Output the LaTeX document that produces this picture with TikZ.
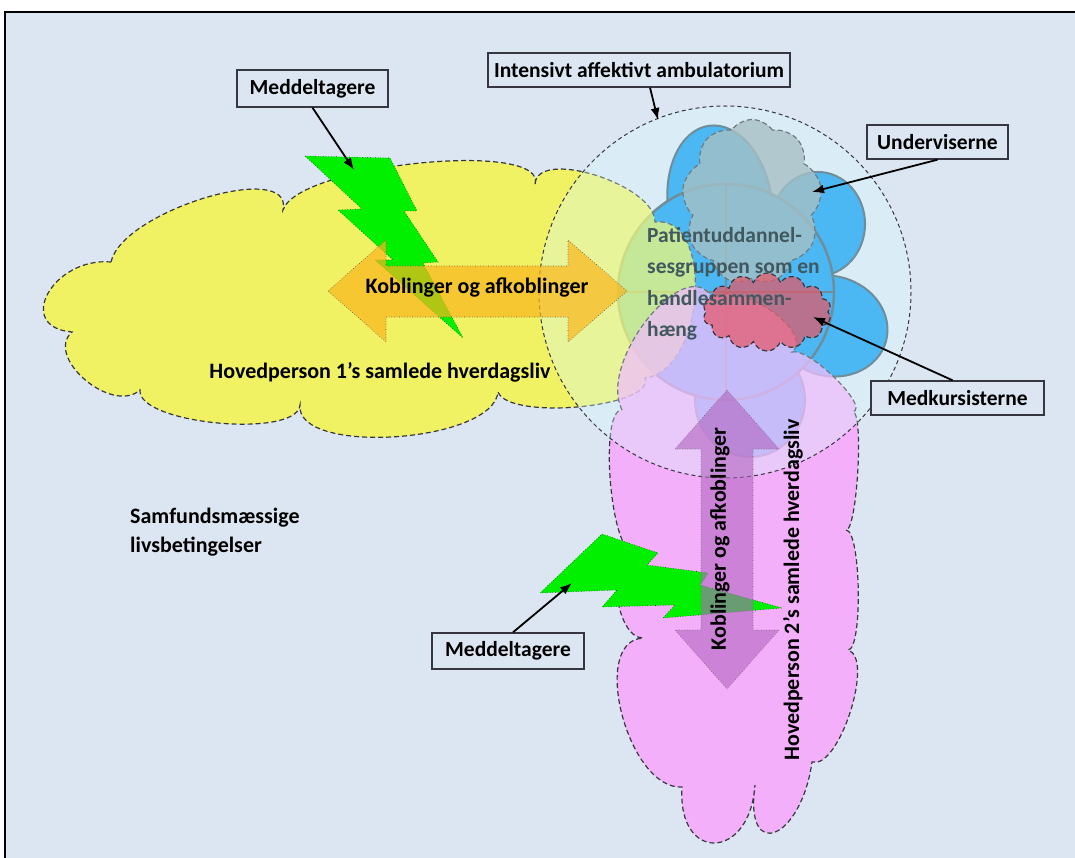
\documentclass[tikz,border=0pt]{standalone}
\usepackage{fontspec}
\setmainfont{Carlito}
\usetikzlibrary{shapes.symbols,arrows.meta}
\definecolor{paper}{RGB}{220,230,242}
\definecolor{sunyellow}{RGB}{249,246,53}
\definecolor{lifepink}{RGB}{253,157,253}
\definecolor{petalblue}{RGB}{0,150,240}
\definecolor{petaledge}{RGB}{55,85,105}
\definecolor{teachgray}{RGB}{140,160,168}
\definecolor{peerred}{RGB}{232,85,100}
\definecolor{wardtint}{RGB}{215,250,252}
\definecolor{boltgreen}{RGB}{0,240,0}
\definecolor{linkorange}{RGB}{250,182,29}
\definecolor{linkviolet}{RGB}{178,100,192}
\definecolor{groupslate}{RGB}{65,88,94}
\definecolor{rimgray}{RGB}{55,55,65}
\begin{document}
\begin{tikzpicture}[x=1pt,y=-1pt,
  labelbox/.style={draw=rimgray,line width=1.4pt,fill=paper,inner sep=0pt,font=\bfseries\fontsize{21.5}{24}\selectfont},
  plaintext/.style={font=\bfseries\fontsize{22}{29}\selectfont,inner sep=0pt},
  cloudline/.style={draw=rimgray,line width=1.2pt,dash pattern=on 5pt off 3pt},
  pointer/.style={line width=1.8pt,-{Latex[length=12pt,width=9pt]}},
  bolt/.style={fill=boltgreen,draw=green!35!black,line width=0.6pt,dotted},
  petal/.style={fill=petalblue,draw=petaledge,line width=2pt}]
\clip (0,0) rectangle (1075,858);
\filldraw[fill=paper,draw=black,line width=2pt] (5,12) rectangle (1090,875);
\draw[petal,rotate around={8:(720,205)}] (720,205) ellipse [x radius=52,y radius=80];
\draw[petal] (818,224) ellipse [x radius=47,y radius=52];
\draw[petal,rotate around={-15:(830,326)}] (830,326) ellipse [x radius=58,y radius=50];
\draw[petal] (750,400) ellipse [x radius=55,y radius=57];
\node[circle,petal,line width=2.5pt,minimum size=216pt] (group) at (726,292) {};
\draw[petaledge,line width=2.5pt] (group.north) -- (group.south) (group.west) -- (group.east);
\node[cloud,cloud puffs=9,cloud puff arc=110,aspect=0.9,minimum width=140pt,minimum height=165pt,
  fill=teachgray,fill opacity=0.8,cloudline] (teachcloud) at (752,202) {};
\filldraw[fill=sunyellow,fill opacity=0.75,cloudline] (111,262)
  .. controls (122,211) and (294,159) .. (283,210)
  .. controls (298,164) and (550,139) .. (535,185)
  .. controls (535,147) and (655,184) .. (655,222)
  .. controls (715,215) and (705,371) .. (645,378)
  .. controls (656,407) and (509,421) .. (498,392)
  .. controls (493,443) and (295,456) .. (300,405)
  .. controls (297,439) and (137,424) .. (140,390)
  .. controls (112,415) and (44,357) .. (72,332)
  .. controls (14,327) and (53,257) .. cycle;
\filldraw[fill=lifepink,fill opacity=0.75,cloudline] (622,410)
  .. controls (597,361) and (687,251) .. (712,298)
  .. controls (736,278) and (816,332) .. (792,352)
  .. controls (809,347) and (870,407) .. (853,412)
  .. controls (864,413) and (857,531) .. (846,530)
  .. controls (861,530) and (863,650) .. (848,650)
  .. controls (875,658) and (839,770) .. (812,762)
  .. controls (801,840) and (744,863) .. (755,785)
  .. controls (750,861) and (677,863) .. (682,787)
  .. controls (628,790) and (589,641) .. (643,638)
  .. controls (615,638) and (605,552) .. (633,552)
  .. controls (610,551) and (599,409) .. cycle;
\fill[wardtint,fill opacity=0.35] (725,292) circle [radius=186];
\draw[rimgray,line width=1pt,dash pattern=on 4pt off 3pt] (725,292) circle [radius=186];
\node[cloud,cloud puffs=14,cloud puff arc=140,aspect=1.6,minimum width=128pt,minimum height=78pt,
  fill=peerred,fill opacity=0.7,cloudline] (peercloud) at (767,312) {};
\filldraw[bolt] (305,156) -- (390,158) -- (417,211) -- (404,211) -- (438,262) -- (423,263)
  -- (463,338) -- (375,260) -- (393,260) -- (338,210) -- (362,209) -- cycle;
\filldraw[bolt] (540,593) -- (602,534) -- (658,553) -- (647,565) -- (708,573) -- (700,585)
  -- (782,608) -- (663,618) -- (675,605) -- (602,607) -- (617,590) -- cycle;
\filldraw[fill=linkorange,fill opacity=0.7,draw=black!70,line width=0.6pt,dotted]
  (328,291) -- (386,240) -- (386,266) -- (568,266) -- (568,240) -- (627,291)
  -- (568,342) -- (568,317) -- (386,317) -- (386,342) -- cycle;
\filldraw[fill=linkviolet,fill opacity=0.6,draw=black!60,line width=0.6pt,dotted]
  (727,390) -- (779,449) -- (753,449) -- (753,630) -- (779,630) -- (727,689)
  -- (675,630) -- (701,630) -- (701,449) -- (675,449) -- cycle;
\node[font=\bfseries\fontsize{21.5}{31.5}\selectfont,text=groupslate,align=left,anchor=north west,inner sep=0pt]
  (grouptext) at (647,227) {Patientuddannel-\\sesgruppen som en\\handlesammen-\\hæng};
\node[plaintext] (link1) at (477,288) {Koblinger og afkoblinger};
\node[plaintext,rotate=90] (link2) at (720,539) {Koblinger og afkoblinger};
\node[plaintext] (life1) at (380,372) {Hovedperson 1’s samlede hverdagsliv};
\node[plaintext,rotate=90] (life2) at (793,590) {Hovedperson 2’s samlede hverdagsliv};
\node[plaintext,align=left,anchor=north west] (society) at (130,508) {Samfundsmæssige\\livsbetingelser};
\node[labelbox,minimum width=151pt,minimum height=37pt] (peers1) at (312.5,88.5) {Meddeltagere};
\node[labelbox,minimum width=302pt,minimum height=34pt] (ward) at (639,70) {Intensivt affektivt ambulatorium};
\node[labelbox,minimum width=141pt,minimum height=34pt] (teach) at (937.5,142) {Underviserne};
\node[labelbox,minimum width=173pt,minimum height=34pt] (fellows) at (957.5,398) {Medkursisterne};
\node[labelbox,minimum width=152pt,minimum height=36pt] (peers2) at (508,651) {Meddeltagere};
\coordinate (bolt1hit) at (354,170);
\coordinate (ringhit) at (658,120);
\coordinate (teachhit) at (812,192);
\coordinate (fellowhit) at (813,317);
\coordinate (bolt2hit) at (572,583);
\draw[pointer] (peers1.south) -- (bolt1hit);
\draw[pointer] ([xshift=11pt]ward.south) -- (ringhit);
\draw[pointer] (teach.south) -- (teachhit);
\draw[pointer] ([xshift=-5pt]fellows.north) -- (fellowhit);
\draw[pointer] ([xshift=5pt]peers2.north) -- (bolt2hit);
\end{tikzpicture}
\end{document}
